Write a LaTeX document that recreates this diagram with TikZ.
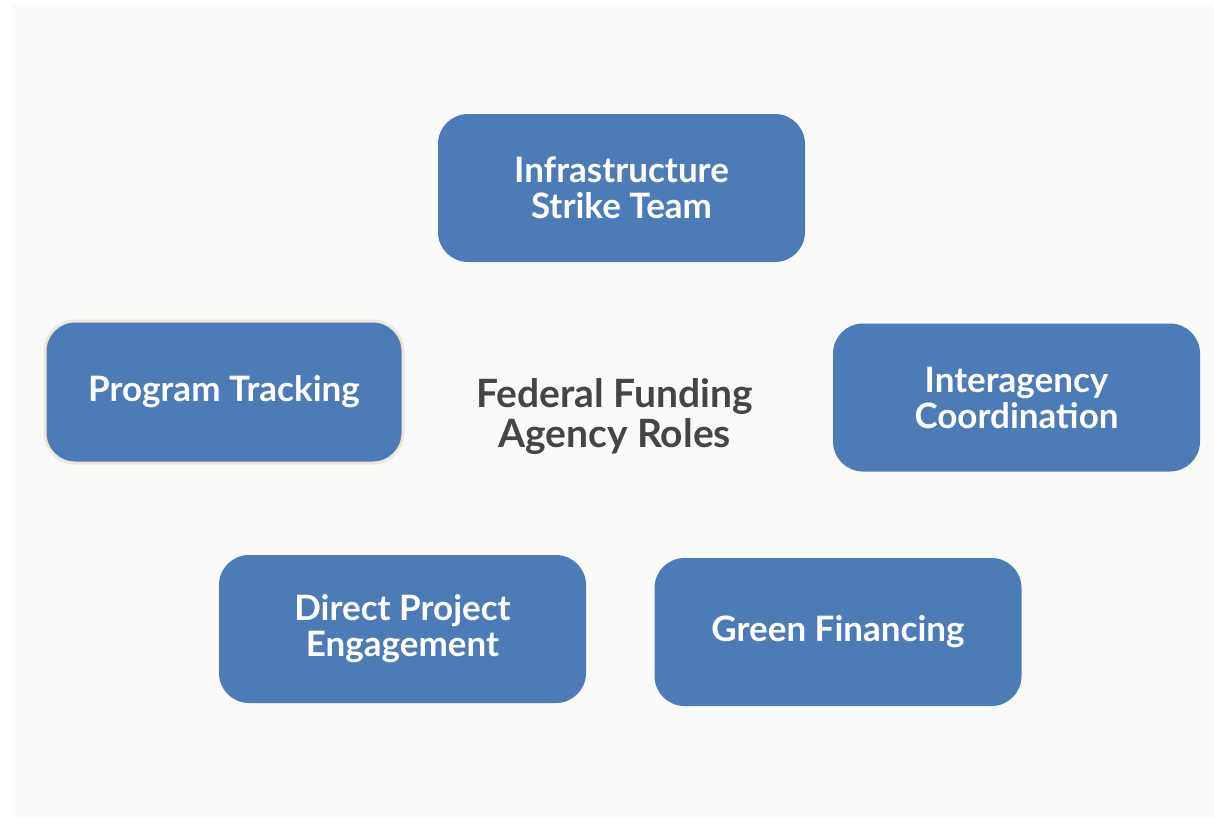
\documentclass[tikz,border=0pt]{standalone}
\usepackage{fontspec}
\setmainfont{Lato}
\definecolor{boxblue}{HTML}{4D7BB7}
\definecolor{panel}{HTML}{FAFAF8}
\definecolor{titlegray}{HTML}{454545}
\definecolor{beige}{HTML}{EFE8DA}
\begin{document}
\begin{tikzpicture}[x=1pt,y=-1pt,
  rolebox/.style={rounded corners=30pt, fill=boxblue, draw=none,
    minimum width=367pt, minimum height=148pt, align=center, text=white,
    font=\fontsize{35}{36}\selectfont\bfseries, inner sep=0pt},
  titletext/.style={align=center, text=titlegray, font=\fontsize{39}{40}\selectfont\bfseries}]
\useasboundingbox (0,0) rectangle (1214,817);
\fill[white] (0,0) rectangle (1214,817);
\fill[panel] (12,5) rectangle (1214,817);
\node[rolebox] (infra) at (621.5,188) {Infrastructure\\Strike Team};
\node[rolebox, minimum width=358pt, minimum height=142pt, draw=beige, line width=3pt] (track) at (224,392) {Program Tracking};
\node[rolebox] (inter) at (1016.5,397.5) {Interagency\\Coordination};
\node[rolebox] (direct) at (402.5,629) {Direct Project\\Engagement};
\node[rolebox] (green) at (838,632) {Green Financing};
\node[titletext] (title) at (614.5,417) {Federal Funding\\Agency Roles};
\end{tikzpicture}
\end{document}
